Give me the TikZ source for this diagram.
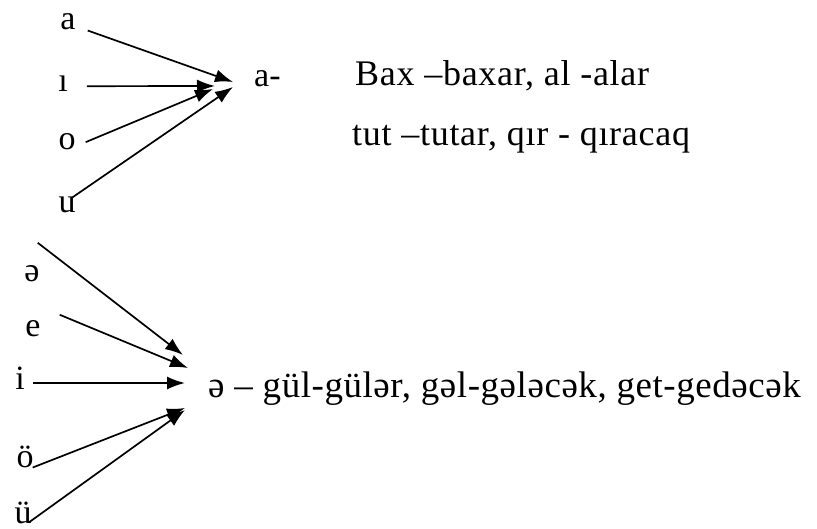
\documentclass[tikz,border=0pt]{standalone}
\usepackage{fontspec}
\setmainfont{Liberation Serif}
\usetikzlibrary{arrows.meta}

\tikzstyle{every node}=[font=\fontsize{34pt}{40pt}\selectfont]
\tikzstyle{harf}=[anchor=base, inner sep=2pt]
\tikzstyle{setir}=[anchor=base west, inner sep=0pt, font=\fontsize{36pt}{44pt}\selectfont\addfontfeature{LetterSpace=2}]
\tikzstyle{ox}=[-{Latex[length=18pt,width=13pt]}, line width=1.7pt]

\begin{document}
\begin{tikzpicture}[x=1pt,y=-1pt]
	\useasboundingbox (0,0) rectangle (817,529);

	% Yuxarı qrup: a, ı, o, u
	\node[harf] (a) at (68,30) {a};
	\node[harf] (dotless) at (63,92) {ı};
	\node[harf] (o) at (67,150) {o};
	\node[harf] (u) at (67,213) {u};
	\node[harf, anchor=base west] (asuf) at (252,87) {a-};

	\coordinate (tipA) at (233,82);
	\coordinate (tipI) at (215,86);
	\coordinate (tipO) at (213,89);
	\coordinate (tipU) at (233,87);

	\draw[ox] ([xshift=10pt, yshift=2pt]a.south east) -- (tipA);
	\draw[ox] ([xshift=17pt, yshift=-2pt]dotless.east) -- (tipI);
	\draw[ox] ([xshift=8pt]o.east) -- (tipO);
	\draw[ox] ([xshift=-5pt, yshift=-2pt]u.north east) -- (tipU);

	% Nümunələr
	\node[setir] (bax) at (355,86) {Bax –baxar, al -alar};
	\node[setir] (tut) at (352,146) {tut –tutar, qır - qıracaq};

	% Aşağı qrup: ə, e, i, ö, ü
	\node[harf] (schwa) at (32,282) {ə};
	\node[harf] (e) at (33,337) {e};
	\node[harf] (i) at (20,390) {i};
	\node[harf] (oe) at (25,467) {ö};
	\node[harf] (ue) at (23,523) {ü};
	\node[setir, font=\fontsize{37pt}{44pt}\selectfont\addfontfeature{LetterSpace=1.5}] (row) at (208,398) {ə – gül-gülər, gəl-gələcək, get-gedəcək};

	\coordinate (tipS) at (183,355);
	\coordinate (tipE) at (188,368);
	\coordinate (tipII) at (185,383);
	\coordinate (tipOE) at (185,408);
	\coordinate (tipUE) at (185,410);

	\draw[ox] ([xshift=-4pt, yshift=21pt]schwa.north east) -- (tipS);
	\draw[ox] ([xshift=17pt, yshift=4pt]e.north east) -- (tipE);
	\draw[ox] ([xshift=6pt, yshift=7pt]i.base east) -- (tipII);
	\draw[ox] ([xshift=-3pt, yshift=2pt]oe.south east) -- (tipOE);
	\draw[ox] ([xshift=-5pt, yshift=3pt]ue.south east) -- (tipUE);
\end{tikzpicture}
\end{document}
